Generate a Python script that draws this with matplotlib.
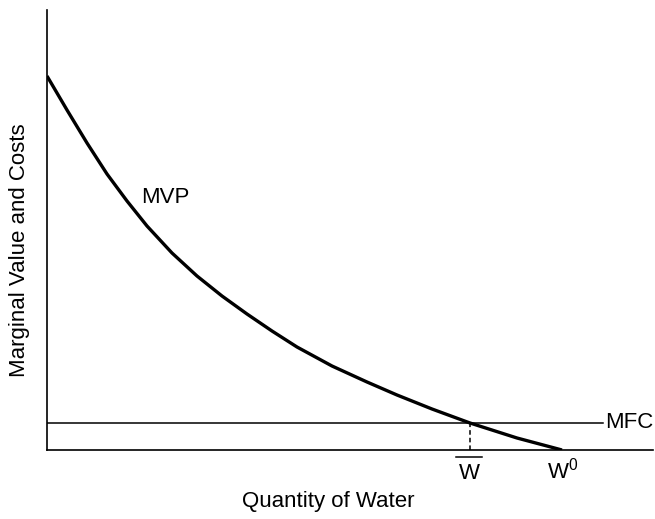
import numpy as np
import matplotlib
matplotlib.use('Agg')
import matplotlib.pyplot as plt

# krzywa MVP (jednostki umowne)
mvp_x = [0, 20, 40, 60, 80, 100, 125, 150, 175, 200, 225, 250, 285, 320, 350, 385, 423, 470, 515]
mvp_y = [374, 340, 307, 276, 249, 224, 197, 174, 154, 136, 119, 103, 84, 68, 55, 41, 27, 12, 0]

mfc_level = 27      # poziom MFC
mfc_end = 556       # gdzie konczy sie linia MFC
w_bar = 423         # punkt przeciecia MVP i MFC
w_zero = 515        # W0, MVP = 0

x_max = 606
y_max = 440

plt.rcParams['font.family'] = ['Liberation Sans', 'DejaVu Sans']
plt.rcParams['mathtext.fontset'] = 'custom'
plt.rcParams['mathtext.rm'] = 'Liberation Sans'
plt.rcParams['mathtext.it'] = 'Liberation Sans:italic'

W, H = 655, 519
fig = plt.figure(figsize=(W / 100, H / 100), dpi=100)
ax = fig.add_axes([47 / W, (H - 450) / H, 606 / W, 440 / H])

ax.plot(mvp_x, mvp_y, color='black', lw=2.4, solid_joinstyle='round', solid_capstyle='butt')
ax.plot([0, mfc_end], [mfc_level, mfc_level], color='black', lw=1.1)
ax.plot([w_bar, w_bar], [0, mfc_level], color='black', lw=1.1, linestyle=(0, (3, 2)))

ax.set_xlim(0, x_max)
ax.set_ylim(0, y_max)
for s in ['top', 'right']:
    ax.spines[s].set_visible(False)
for s in ['left', 'bottom']:
    ax.spines[s].set_linewidth(1.2)
ax.set_xticks([])
ax.set_yticks([])

fs = 16
ax.text(94, 253, 'MVP', fontsize=fs, ha='left', va='center')
ax.text(mfc_end + 2, mfc_level, 'MFC', fontsize=fs, ha='left', va='center')

# W z kreska u gory, W0 na tej samej linii bazowej
ax.text(w_bar - 1, -29, 'W', fontsize=fs, ha='center', va='baseline', clip_on=False)
ax.plot([w_bar - 14, w_bar + 12], [-7, -7], color='black', lw=1.1, clip_on=False)
ax.text(w_zero + 1, -29, r'W$^{\mathrm{0}}$', fontsize=fs, ha='center', va='baseline', clip_on=False)

ax.text(0.464, -0.093, 'Quantity of Water', fontsize=fs, ha='center', va='top', transform=ax.transAxes)
ax.text(-0.046, 0.4545, 'Marginal Value and Costs', fontsize=fs, ha='center', va='center',
        rotation=90, transform=ax.transAxes)

fig.savefig('out.png', dpi=100)
